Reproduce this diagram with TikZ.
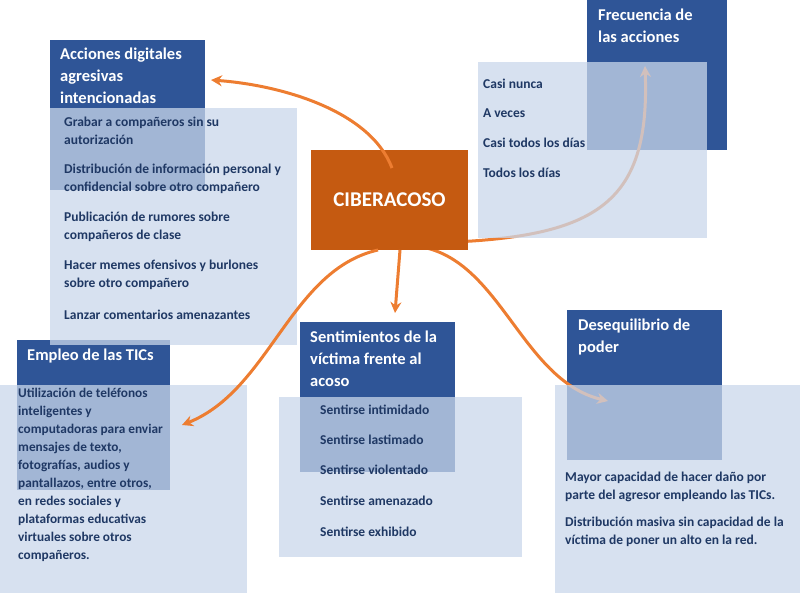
\documentclass[tikz,border=0pt]{standalone}
\usepackage{fontspec}
\setmainfont{Carlito}
\usetikzlibrary{arrows.meta}
\definecolor{dkb}{HTML}{2F5597}
\definecolor{ltb}{HTML}{C9D7EB}
\definecolor{org}{HTML}{C55A11}
\definecolor{arr}{HTML}{ED7D31}
\definecolor{txt}{HTML}{1F3864}
\begin{document}
\begin{tikzpicture}[x=1pt,y=-1pt,
  dark/.style={fill=dkb,draw=none},
  light/.style={fill=ltb,draw=none,fill opacity=0.75},
  ttl/.style={anchor=north west,inner sep=0pt,text=white,font=\fontsize{16.5}{22}\selectfont\bfseries,align=left},
  itm/.style={anchor=west,inner sep=0pt,text=txt,font=\fontsize{13.5}{18}\selectfont\bfseries,align=left},
  ar/.style={draw=arr,line width=3pt,-{Stealth[length=11pt,width=11pt]}}]
\useasboundingbox (0,0) rectangle (800,593);
% dark boxes
\fill[dark] (50,40) rectangle (205,190);
\fill[dark] (587,0) rectangle (727,150);
\fill[dark] (17,340) rectangle (170,490);
\fill[dark] (300,322) rectangle (455,472);
\fill[dark] (567,310) rectangle (722,460);
% arrows under light boxes
\coordinate (c1) at (455,242);
\coordinate (e1) at (645,66);
\draw[ar] (c1) .. controls (600,235) and (650,200) .. (e1);
\coordinate (c2) at (415,246);
\coordinate (e2) at (608,401);
\draw[ar] (c2) .. controls (500,255) and (520,380) .. (e2);
% light boxes
\fill[light] (50,108) rectangle (297,345);
\fill[light] (478,62) rectangle (707,238);
\fill[light] (0,385) rectangle (247,593);
\fill[light] (279,397) rectangle (522,557);
\fill[light] (555,385) rectangle (800,593);
% center
\node[fill=org,minimum width=157pt,minimum height=100pt,inner sep=0pt,text=white,font=\fontsize{21}{24}\selectfont\bfseries] (cen) at (389.5,200) {CIBERACOSO};
% arrows above
\coordinate (s3) at (392,168);
\coordinate (e3) at (211,80);
\draw[ar] (s3) .. controls (370,110) and (280,85) .. (e3);
\coordinate (s4) at (400,250);
\coordinate (e4) at (395,313);
\draw[ar] (s4) -- (e4);
\coordinate (s5) at (378,250);
\coordinate (e5) at (182,425);
\draw[ar] (s5) .. controls (290,270) and (270,390) .. (e5);
% titles
\node[ttl] (t1) at (60,48) {Acciones digitales\\agresivas\\intencionadas};
\node[ttl] (t2) at (598,9) {Frecuencia de\\las acciones};
\node[ttl] (t3) at (27,349) {Empleo de las TICs};
\node[ttl] (t4) at (310,331) {Sentimientos de la\\víctima frente al\\acoso};
\node[ttl] (t5) at (578,319) {Desequilibrio de\\poder};
% items left
\node[itm] (a1) at (64,131) {Grabar a compañeros sin su\\autorización};
\node[itm] (a2) at (64,179) {Distribución de información personal y\\confidencial sobre otro compañero};
\node[itm] (a3) at (64,227) {Publicación de rumores sobre\\compañeros de clase};
\node[itm] (a4) at (64,275) {Hacer memes ofensivos y burlones\\sobre otro compañero};
\node[itm] (a5) at (64,315) {Lanzar comentarios amenazantes};
% frequency
\node[itm] (f1) at (483,84) {Casi nunca};
\node[itm] (f2) at (483,113) {A veces};
\node[itm] (f3) at (483,143) {Casi todos los días};
\node[itm] (f4) at (483,173) {Todos los días};
% TICs
\node[anchor=north west,inner sep=0pt,text=txt,font=\fontsize{13.3}{18}\selectfont\bfseries,align=left] (b1) at (18,388) {Utilización de teléfonos\\inteligentes y\\computadoras para enviar\\mensajes de texto,\\fotografías, audios y\\pantallazos, entre otros,\\en redes sociales y\\plataformas educativas\\virtuales sobre otros\\compañeros.};
% feelings
\node[itm] (s1) at (320,410) {Sentirse intimidado};
\node[itm] (s2) at (320,440) {Sentirse lastimado};
\node[itm] (s3n) at (320,470) {Sentirse violentado};
\node[itm] (s4n) at (320,501) {Sentirse amenazado};
\node[itm] (s5n) at (320,532) {Sentirse exhibido};
% power
\node[itm] (p1) at (565,487) {Mayor capacidad de hacer daño por\\parte del agresor empleando las TICs.};
\node[itm] (p2) at (565,532) {Distribución masiva sin capacidad de la\\víctima de poner un alto en la red.};
\end{tikzpicture}
\end{document}
